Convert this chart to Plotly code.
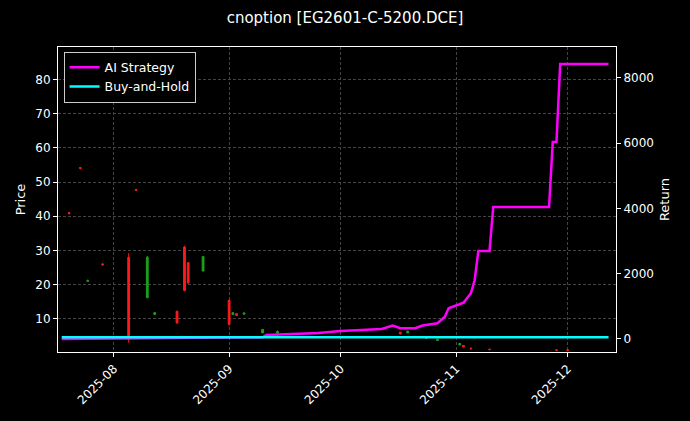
import plotly.graph_objects as go

# candles (only the visible ones)
candle_dates = ["2025-07-20", "2025-07-23", "2025-07-25", "2025-07-29", "2025-08-05", "2025-08-07",
                "2025-08-10", "2025-08-12", "2025-08-18", "2025-08-20", "2025-08-21", "2025-08-25",
                "2025-09-01", "2025-09-02", "2025-09-03", "2025-09-05", "2025-09-10", "2025-09-14",
                "2025-10-17", "2025-10-19", "2025-10-24", "2025-10-27", "2025-11-02", "2025-11-03",
                "2025-11-05", "2025-11-10", "2025-11-28", "2025-12-01"]
opens = [40.8, 54.0, 21.2, 25.8, 4.0, 47.6, 28.0, 11.8, 8.8, 18.3, 20.5, 28.2,
         8.4, 11.8, 11.0, 11.7, 6.9, 6.3, 5.6, 6.4, 4.6, 4.0, 2.8, 1.8, 1.3, 1.0, 0.8, 0.8]
highs = [41.2, 54.4, 21.5, 26.2, 29.2, 47.9, 28.4, 12.0, 12.4, 31.4, 26.6, 28.4,
         15.6, 12.0, 11.6, 11.9, 7.0, 6.6, 6.2, 6.5, 4.8, 4.2, 3.0, 2.3, 1.5, 1.2, 1.0, 1.0]
lows = [40.5, 53.7, 20.9, 25.5, 3.0, 47.3, 16.0, 11.2, 8.6, 18.0, 20.3, 23.8,
        8.0, 11.2, 10.8, 11.3, 5.8, 5.0, 5.4, 5.8, 4.2, 3.6, 2.2, 1.6, 0.9, 0.8, 0.6, 0.6]
closes = [41.0, 54.2, 21.0, 26.0, 28.0, 47.8, 16.2, 11.3, 12.2, 31.0, 26.4, 24.0,
          15.4, 11.3, 11.5, 11.4, 5.9, 5.8, 6.1, 5.9, 4.3, 3.7, 2.4, 2.2, 1.4, 1.1, 0.9, 0.9]

# strategy returns
ret_dates = ["2025-07-18", "2025-09-10", "2025-09-11", "2025-09-25", "2025-10-01", "2025-10-12",
             "2025-10-15", "2025-10-17", "2025-10-21", "2025-10-23", "2025-10-27", "2025-10-29",
             "2025-10-30", "2025-11-03", "2025-11-05", "2025-11-06", "2025-11-07", "2025-11-10",
             "2025-11-11", "2025-11-26", "2025-11-27", "2025-11-28", "2025-11-29", "2025-12-12"]
ai_return = [0, 50, 120, 180, 245, 306, 410, 330, 330, 410, 480, 680,
             940, 1110, 1400, 1800, 2700, 2700, 4045, 4045, 6040, 6040, 8430, 8430]
bh_dates = ["2025-07-18", "2025-12-12"]
bh_return = [50, 50]

fig = go.Figure()
fig.add_trace(go.Candlestick(
    x=candle_dates, open=opens, high=highs, low=lows, close=closes,
    increasing=dict(line=dict(color="#ff1a1a", width=1), fillcolor="#ff1a1a"),
    decreasing=dict(line=dict(color="#1aa31a", width=1), fillcolor="#1aa31a"),
    whiskerwidth=0, showlegend=False, yaxis="y"))
fig.add_trace(go.Scatter(x=ret_dates, y=ai_return, name="AI Strategy", mode="lines",
                         line=dict(color="#ff00ff", width=2.5), yaxis="y2"))
fig.add_trace(go.Scatter(x=bh_dates, y=bh_return, name="Buy-and-Hold", mode="lines",
                         line=dict(color="#00ffff", width=2.5), yaxis="y2"))

grid = dict(showgrid=True, gridcolor="#444444", griddash="3px,2px", gridwidth=0.6,
            showline=True, linecolor="white", ticks="outside", tickcolor="white",
            ticklen=4, zeroline=False, automargin=False, tickfont=dict(size=12))
fig.update_layout(
    width=690, height=421,
    paper_bgcolor="black", plot_bgcolor="black",
    font=dict(family="DejaVu Sans", color="white", size=11),
    title=dict(text="cnoption [EG2601-C-5200.DCE]", x=0.5, xanchor="center",
               y=0.957, yanchor="middle", font=dict(size=15)),
    margin=dict(l=58, r=74, t=47, b=69),
    xaxis=dict(range=["2025-07-17", "2025-12-14"], rangeslider=dict(visible=False),
               tickvals=["2025-08-01", "2025-09-01", "2025-10-01", "2025-11-01", "2025-12-01"],
               ticktext=["2025-08", "2025-09", "2025-10", "2025-11", "2025-12"],
               tickangle=-45, mirror=True, **grid),
    yaxis=dict(title=dict(text="Price", standoff=6), range=[0.3, 89.5],
               tickvals=[10, 20, 30, 40, 50, 60, 70, 80], **grid),
    yaxis2=dict(title=dict(text="Return", standoff=6), overlaying="y", side="right",
                range=[-400, 8950], tickvals=[0, 2000, 4000, 6000, 8000],
                showgrid=False, showline=True, linecolor="white", ticks="outside",
                ticklen=4, tickcolor="white", zeroline=False, automargin=False,
                tickfont=dict(size=12)),
    legend=dict(x=0.01, y=0.985, xanchor="left", yanchor="top", bgcolor="black",
                bordercolor="#cccccc", borderwidth=1, font=dict(size=12.5)),
)
fig.write_html("out.html", post_script="document.body.style.margin='0';",
               config={"displayModeBar": False})
